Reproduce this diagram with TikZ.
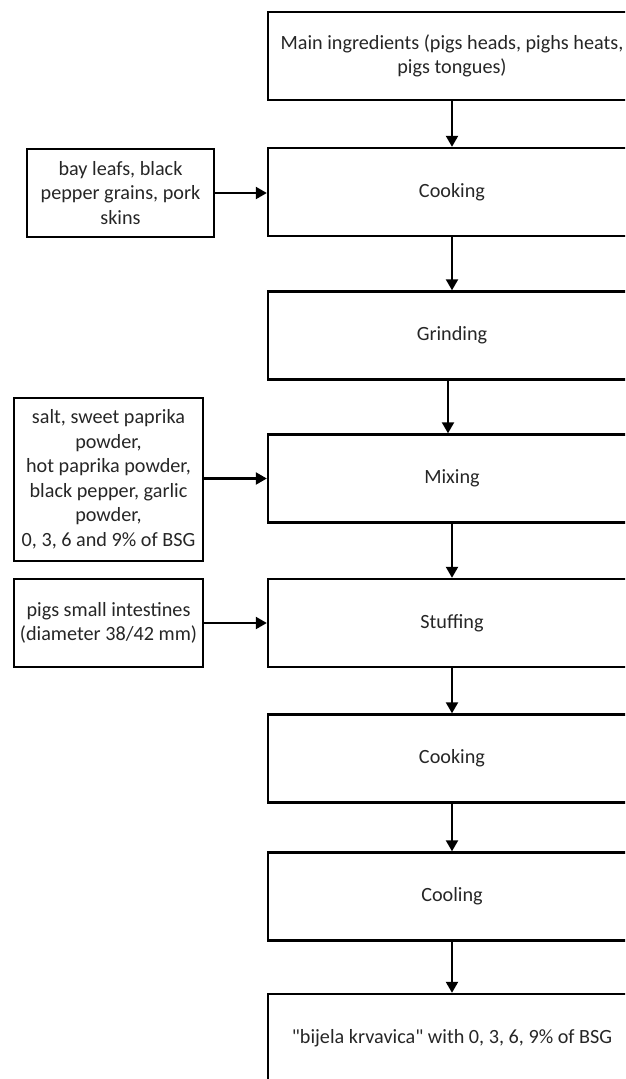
\documentclass[tikz,border=0pt]{standalone}
\usepackage{fontspec}
\setmainfont{Carlito}
\usetikzlibrary{arrows.meta}
\begin{document}
\begin{tikzpicture}[x=1pt,y=-1pt,
  proc/.style={draw=black, line width=2.4pt, rectangle, minimum width=368pt, minimum height=88pt, inner sep=0pt, align=center, font=\fontsize{20.2}{24.5}\selectfont, text=black!85},
  side/.style={draw=black, line width=2.4pt, rectangle, inner sep=0pt, align=center, font=\fontsize{20.2}{24.5}\selectfont, text=black!85},
  flow/.style={line width=2.2pt, -{Triangle[length=11pt,width=12pt]}}]
\useasboundingbox (0,0) rectangle (625,1079);
\clip (0,0) rectangle (625,1079);
\node[proc] (main) at (452,56) {Main ingredients (pigs heads, pighs heats,\\pigs tongues)};
\node[proc] (cook1) at (452,192) {Cooking};
\node[proc] (grind) at (452,335.5) {Grinding};
\node[proc] (mix) at (452,478.5) {Mixing};
\node[proc] (stuff) at (452,623) {Stuffing};
\node[proc] (cook2) at (452,758.5) {Cooking};
\node[proc] (cool) at (452,896.5) {Cooling};
\node[proc] (final) at (452,1038) {\textquotedbl bijela krvavica\textquotedbl{} with 0, 3, 6, 9\% of BSG};
\node[side, minimum width=187pt, minimum height=88pt] (spice) at (120.5,193) {bay leafs, black\\pepper grains, pork\\skins};
\node[side, minimum width=189pt, minimum height=163pt] (mixin) at (108.5,479.5) {salt, sweet paprika\\powder,\\hot paprika powder,\\black pepper, garlic\\powder,\\0, 3, 6 and 9\% of BSG};
\node[side, minimum width=189pt, minimum height=88pt] (casing) at (108.5,623) {pigs small intestines\\(diameter 38/42 mm)};
\draw[flow] (main) -- (cook1);
\draw[flow] (cook1) -- (grind);
\draw[flow] ([xshift=-4pt]grind.south) -- ([xshift=-4pt]mix.north);
\draw[flow] (mix) -- (stuff);
\draw[flow] (stuff) -- (cook2);
\draw[flow] (cook2) -- (cool);
\draw[flow] (cool) -- (final);
\draw[flow] (spice) -- (spice -| cook1.west);
\draw[flow] (mixin.east |- mix) -- (mix.west);
\draw[flow] (casing) -- (casing -| stuff.west);
\end{tikzpicture}
\end{document}
